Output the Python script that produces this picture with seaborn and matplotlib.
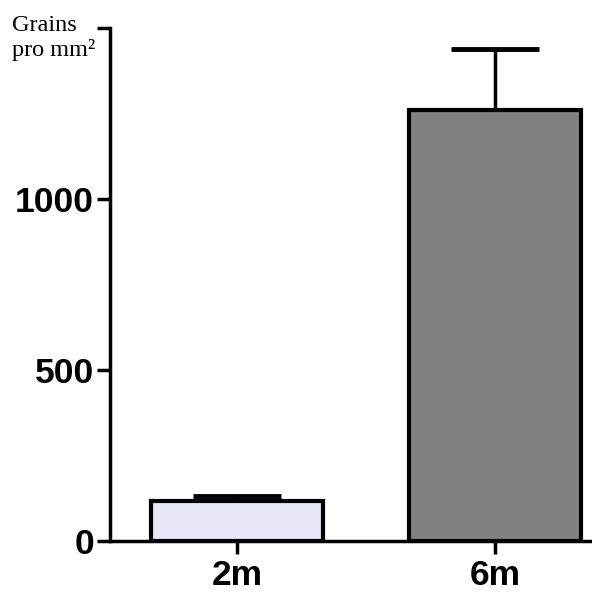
import matplotlib
matplotlib.use('Agg')
import matplotlib.pyplot as plt
import seaborn as sns
import pandas as pd

groups = ['2m', '6m']
means = [116, 1261]
errors = [16, 176]
bar_colors = ['#E4E4FA', '#808084']
yticks = [0, 500, 1000, 1500]
ytick_labels = ['0', '500', '1000', '']

df = pd.DataFrame({'Gruppe': groups, 'Grains': means})

sns.set_style('white')
plt.rcParams['font.family'] = ['Liberation Sans', 'DejaVu Sans']

fig = plt.figure(figsize=(5.92, 5.93), dpi=100)
ax = fig.add_axes([0.186, 0.0877, 0.814, 0.8653])

sns.barplot(data=df, x='Gruppe', y='Grains', hue='Gruppe', palette=bar_colors,
            errorbar=None, width=0.667, edgecolor='black', linewidth=3,
            legend=False, ax=ax, zorder=2)
ax.errorbar(range(len(groups)), means, yerr=[[0, 0], errors], fmt='none',
            ecolor='black', elinewidth=2.5, capsize=31.7, capthick=3.5, zorder=1)

ax.set_xlim(-0.492, 1.376)
ax.set_ylim(0, 1500)
ax.set_yticks(yticks)
ax.set_yticklabels(ytick_labels)
ax.set_xlabel('')
ax.set_ylabel('')

for side in ['top', 'right']:
    ax.spines[side].set_visible(False)
for side in ['left', 'bottom']:
    ax.spines[side].set_linewidth(2.5)
    ax.spines[side].set_color('black')

ax.tick_params(axis='both', which='major', length=9.5, width=2.5, color='black',
               labelcolor='black', labelsize=25.5, left=True, bottom=True)
ax.tick_params(axis='y', pad=2)
ax.tick_params(axis='x', pad=3.5)
for lbl in ax.get_xticklabels() + ax.get_yticklabels():
    lbl.set_fontweight('bold')

fig.text(12 / 592, 1 - 15 / 593, 'Grains\npro mm²', family=['Liberation Serif', 'DejaVu Serif'],
         fontsize=17.5, color='black', va='top', ha='left', linespacing=1.15)

fig.savefig('out.png', dpi=100)
